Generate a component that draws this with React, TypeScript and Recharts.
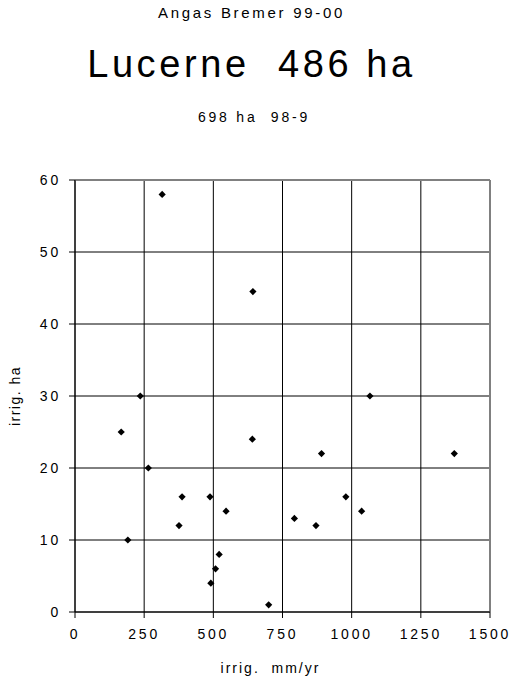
import React from 'react';
import {
  ScatterChart,
  Scatter,
  XAxis,
  YAxis,
  CartesianGrid,
  ReferenceLine,
  Label,
} from 'recharts';

const irrigMm: number[] = [315, 643, 236, 167, 1066, 641, 265, 387, 488, 546, 376, 191, 521, 508, 491, 700, 891, 1371, 979, 1036, 793, 871];
const irrigHa: number[] = [58, 44.5, 30, 25, 30, 24, 20, 16, 16, 14, 12, 10, 8, 6, 4, 1, 22, 22, 16, 14, 13, 12];
const xTicks: number[] = [0, 250, 500, 750, 1000, 1250, 1500];
const yTicks: number[] = [0, 10, 20, 30, 40, 50, 60];

const titleTop = 'Angas Bremer 99-00';
const titleMain = 'Lucerne  486 ha';
const titleSub = '698 ha  98-9';
const xTitle = 'irrig.\u00A0 mm/yr';
const yTitle = 'irrig. ha';

const points = irrigMm.map((x, i) => ({ x, y: irrigHa[i] }));

const FONT = '"Liberation Sans", Arial, sans-serif';

const Diamond = (props: any) => {
  const { cx, cy } = props;
  if (cx == null || cy == null) return null;
  const r = 3.6;
  return (
    <polygon
      points={`${cx},${cy - r} ${cx + r},${cy} ${cx},${cy + r} ${cx - r},${cy}`}
      fill="#000"
    />
  );
};

const tickStyle = { fontFamily: FONT, fontSize: 14, fill: '#000', letterSpacing: 2.8 };

export default function App() {
  return (
    <div style={{ position: 'absolute', left: 0, top: 0, width: 513, height: 681, background: '#fff' }}>
      <div style={{ position: 'absolute', left: 0, width: 503, top: 4, textAlign: 'center', fontFamily: FONT, fontSize: 15, letterSpacing: 2.7, whiteSpace: 'pre', lineHeight: '18px' }}>
        {titleTop}
      </div>
      <div style={{ position: 'absolute', left: 0, width: 503, top: 42, textAlign: 'center', fontFamily: FONT, fontSize: 38, letterSpacing: 3.6, whiteSpace: 'pre', lineHeight: '44px' }}>
        {titleMain}
      </div>
      <div style={{ position: 'absolute', left: 0, width: 508, top: 108, textAlign: 'center', fontFamily: FONT, fontSize: 14, letterSpacing: 2.8, whiteSpace: 'pre', lineHeight: '18px' }}>
        {titleSub}
      </div>
      <ScatterChart
        width={513}
        height={681}
        margin={{ top: 180, right: 23, bottom: 4, left: 15 }}
        style={{ position: 'absolute', left: 0, top: 0 }}
      >
        <CartesianGrid stroke="#000" strokeWidth={1} />
        <XAxis
          type="number"
          dataKey="x"
          domain={[0, 1500]}
          ticks={xTicks}
          interval={0}
          height={65}
          tickSize={6}
          tickMargin={11}
          axisLine={{ stroke: '#000' }}
          tickLine={{ stroke: '#000' }}
          tick={tickStyle}
        >
          <Label
            content={(p: any) => {
              const vb = p.viewBox || {};
              return (
                <text
                  x={vb.x + vb.width / 2 - 12}
                  y={vb.y + 61}
                  textAnchor="middle"
                  style={{ fontFamily: FONT, fontSize: 14, letterSpacing: 2, whiteSpace: 'pre' }}
                  fill="#000"
                >
                  {xTitle}
                </text>
              );
            }}
          />
        </XAxis>
        <YAxis
          type="number"
          dataKey="y"
          domain={[0, 60]}
          ticks={yTicks}
          interval={0}
          width={60}
          tickSize={6}
          tickMargin={8}
          axisLine={{ stroke: '#000' }}
          tickLine={{ stroke: '#000' }}
          tick={tickStyle}
        >
          <Label
            content={(p: any) => {
              const vb = p.viewBox || {};
              const cx = vb.x + 0;
              const cy = vb.y + vb.height / 2;
              return (
                <text
                  x={cx}
                  y={cy}
                  transform={`rotate(-90 ${cx} ${cy})`}
                  textAnchor="middle"
                  dominantBaseline="central"
                  style={{ fontFamily: FONT, fontSize: 14, letterSpacing: 1.5 }}
                  fill="#000"
                >
                  {yTitle}
                </text>
              );
            }}
          />
        </YAxis>
        <ReferenceLine y={60} stroke="#808080" strokeWidth={2} />
        <ReferenceLine x={1500} stroke="#808080" strokeWidth={2} />
        <Scatter data={points} shape={<Diamond />} isAnimationActive={false} />
      </ScatterChart>
    </div>
  );
}
